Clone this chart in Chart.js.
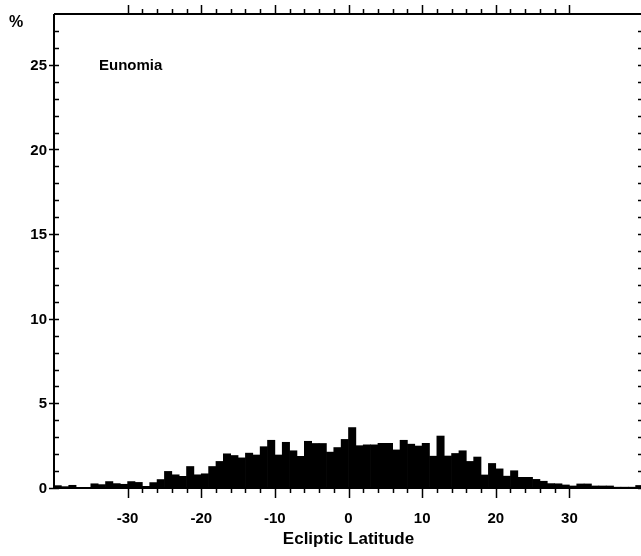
<!DOCTYPE html>
<html lang="en">
<head>
<meta charset="UTF-8">
<title>Eunomia - Ecliptic Latitude</title>
<script src="https://cdn.jsdelivr.net/npm/chart.js@4"></script>
<style>
  html, body { margin: 0; padding: 0; background: #fff; overflow: hidden; }
  #wrap { position: relative; width: 644px; height: 556px; }
</style>
</head>
<body>
<div id="wrap"><canvas id="histChart" width="644" height="556"></canvas></div>
<script>
// bin starts (degrees), 1 degree wide
const binStarts = [
  -40, -39, -38, -37, -36, -35, -34, -33, -32, -31,
  -30, -29, -28, -27, -26, -25, -24, -23, -22, -21,
  -20, -19, -18, -17, -16, -15, -14, -13, -12, -11,
  -10, -9, -8, -7, -6, -5, -4, -3, -2, -1,
  0, 1, 2, 3, 4, 5, 6, 7, 8, 9,
  10, 11, 12, 13, 14, 15, 16, 17, 18, 19,
  20, 21, 22, 23, 24, 25, 26, 27, 28, 29,
  30, 31, 32, 33, 34, 35, 36, 37, 38, 39
];
// percentage of family members per bin
const percents = [
  0.14, 0.08, 0.16, 0.04, 0.04, 0.25, 0.20, 0.38, 0.26, 0.22,
  0.38, 0.33, 0.10, 0.32, 0.50, 0.98, 0.78, 0.69, 1.27, 0.78,
  0.84, 1.27, 1.57, 2.02, 1.92, 1.78, 2.06, 1.95, 2.44, 2.82,
  1.95, 2.70, 2.20, 1.87, 2.76, 2.63, 2.63, 2.12, 2.39, 2.87,
  3.57, 2.50, 2.55, 2.55, 2.64, 2.64, 2.25, 2.82, 2.59, 2.48,
  2.64, 1.88, 3.07, 1.89, 2.04, 2.20, 1.57, 1.83, 0.77, 1.45,
  1.13, 0.70, 1.02, 0.63, 0.63, 0.51, 0.40, 0.26, 0.25, 0.18,
  0.12, 0.24, 0.24, 0.12, 0.12, 0.12, 0.05, 0.05, 0.05, 0.15
];

const xTicks = [-30, -28, -26, -24, -22, -20, -18, -16, -14, -12, -10, -8, -6, -4, -2,
  0, 2, 4, 6, 8, 10, 12, 14, 16, 18, 20, 22, 24, 26, 28, 30];
const xLabels = [-30, -20, -10, 0, 10, 20, 30];
const yTicks = [0, 1, 2, 3, 4, 5, 6, 7, 8, 9, 10, 11, 12, 13, 14, 15, 16, 17, 18, 19,
  20, 21, 22, 23, 24, 25, 26, 27];
const yLabels = [0, 5, 10, 15, 20, 25];

const FONT = 'Liberation Sans, Arial, sans-serif';

// frame, tick marks and all text drawn from the chart's own scales
const frameAndTicks = {
  id: 'frameAndTicks',
  afterDatasetsDraw(chart) {
    const { ctx, chartArea: a, scales: { x, y } } = chart;
    ctx.save();
    ctx.strokeStyle = '#000';
    ctx.fillStyle = '#000';

    ctx.lineWidth = 1.5;
    ctx.beginPath();
    xTicks.forEach(v => {
      const px = Math.round(x.getPixelForValue(v)) + 0.5;
      const major = v % 10 === 0;
      // top: outward
      ctx.moveTo(px, a.top);
      ctx.lineTo(px, a.top - (major ? 9 : 5));
      // bottom: outward
      ctx.moveTo(px, a.bottom);
      ctx.lineTo(px, a.bottom + (major ? 10 : 5));
    });
    yTicks.forEach(v => {
      const py = Math.round(y.getPixelForValue(v)) + 0.5;
      const major = v % 5 === 0;
      ctx.moveTo(a.left + 5, py);
      ctx.lineTo(a.left - (major ? 5 : 0), py);
      ctx.moveTo(a.right - 5, py);
      ctx.lineTo(a.right + (major ? 5 : 0), py);
    });
    ctx.stroke();

    ctx.lineWidth = 2;
    ctx.beginPath();
    ctx.moveTo(a.left, a.top);
    ctx.lineTo(a.right, a.top);
    ctx.moveTo(a.left, a.top);
    ctx.lineTo(a.left, a.bottom);
    ctx.moveTo(a.left, a.bottom);
    ctx.lineTo(a.right, a.bottom);
    ctx.moveTo(a.right, a.top);
    ctx.lineTo(a.right, a.bottom);
    ctx.stroke();

    ctx.font = 'bold 15px ' + FONT;
    ctx.textAlign = 'center';
    ctx.textBaseline = 'middle';
    xLabels.forEach(v => {
      ctx.fillText(String(v), x.getPixelForValue(v), a.bottom + 31);
    });
    ctx.textAlign = 'right';
    yLabels.forEach(v => {
      ctx.fillText(String(v), a.left - 7, y.getPixelForValue(v) + 1);
    });

    ctx.textAlign = 'left';
    ctx.fillText('Eunomia', 99, y.getPixelForValue(25) + 1);
    ctx.font = 'bold 16px ' + FONT;
    ctx.fillText('%', 9, 23);

    ctx.font = 'bold 17px ' + FONT;
    ctx.textAlign = 'center';
    ctx.fillText('Ecliptic Latitude', x.getPixelForValue(0), a.bottom + 51);
    ctx.restore();
  }
};

new Chart(document.getElementById('histChart'), {
  type: 'bar',
  data: {
    datasets: [{
      data: binStarts.map((b, i) => ({ x: b + 0.5, y: percents[i] })),
      backgroundColor: '#000',
      borderWidth: 0,
      barPercentage: 1,
      categoryPercentage: 1
    }]
  },
  options: {
    responsive: false,
    animation: false,
    layout: { padding: { left: 54, top: 14, right: 1, bottom: 68 } },
    plugins: { legend: { display: false }, tooltip: { enabled: false } },
    scales: {
      x: { type: 'linear', min: -40, max: 40, offset: false, display: false },
      y: { min: 0, max: 28, display: false }
    }
  },
  plugins: [frameAndTicks]
});
</script>
</body>
</html>
